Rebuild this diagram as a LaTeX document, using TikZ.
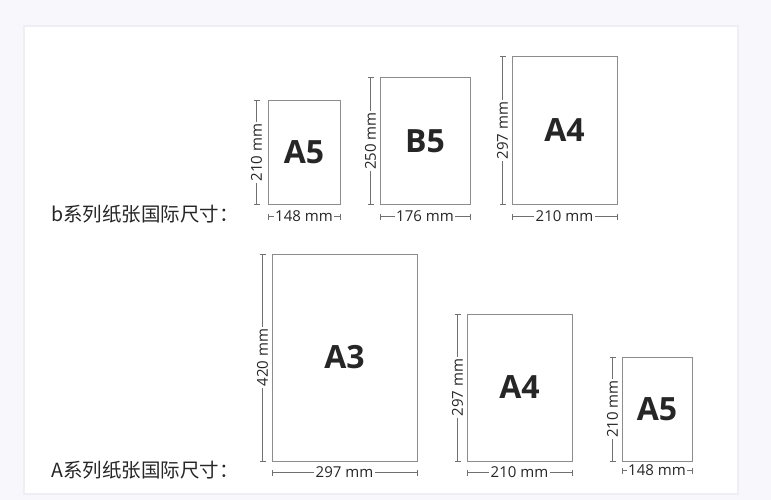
\documentclass[tikz,border=0pt]{standalone}
\usepackage{fontspec}
\setmainfont{Open Sans}
\newfontfamily\cjk{Noto Sans CJK SC}
\usetikzlibrary{arrows.meta}

\definecolor{pagebg}{HTML}{F8F8FC}
\definecolor{panelrim}{HTML}{EEEEF4}
\definecolor{edgegray}{HTML}{8C8C8C}
\definecolor{dimgray}{HTML}{707070}
\definecolor{inkgray}{HTML}{262626}

\tikzset{
  paper/.style={draw=edgegray, line width=1pt, fill=white, inner sep=0pt,
    font=\fontsize{32}{32}\selectfont\bfseries, text=inkgray},
  dimline/.style={draw=dimgray, line width=0.8pt,
    {Bar[width=6pt]}-{Bar[width=6pt]}},
  dimtext/.style={fill=white, inner sep=1.5pt,
    font=\fontsize{15}{15}\selectfont, text=inkgray},
  serieslabel/.style={anchor=west, inner sep=0pt,
    font=\cjk\fontsize{19.5}{19.5}\selectfont, text=inkgray}
}

\begin{document}
\begin{tikzpicture}[x=1pt,y=-1pt]
        % page and panel
        \fill[pagebg] (0,0) rectangle (771,500);
        \fill[panelrim] (23,25) rectangle (739,495);
        \fill[white] (25,27) rectangle (737,493);

        % B series row
        \node[paper, minimum width=72pt, minimum height=103pt] (a5top) at (304,152.5) {A5};
        \node[paper, minimum width=90pt, minimum height=126pt] (b5top) at (425,141) {B5};
        \node[paper, minimum width=105pt, minimum height=147pt] (a4top) at (564.5,130.5) {A4};

        \draw[dimline] ([xshift=-11pt]a5top.south west) -- node[dimtext, rotate=90] {210 mm} ([xshift=-11pt]a5top.north west);
        \draw[dimline] ([yshift=-12pt]a5top.south west) -- node[dimtext] {148 mm} ([yshift=-12pt]a5top.south east);
        \draw[dimline] ([xshift=-9pt]b5top.south west) -- node[dimtext, rotate=90] {250 mm} ([xshift=-9pt]b5top.north west);
        \draw[dimline] ([yshift=-12pt]b5top.south west) -- node[dimtext] {176 mm} ([yshift=-12pt]b5top.south east);
        \draw[dimline] ([xshift=-9pt]a4top.south west) -- node[dimtext, rotate=90] {297 mm} ([xshift=-9pt]a4top.north west);
        \draw[dimline] ([yshift=-12pt]a4top.south west) -- node[dimtext] {210 mm} ([yshift=-12pt]a4top.south east);

        \node[serieslabel] (bseries) at (51,214) {b系列纸张国际尺寸：};

        % A series row
        \node[paper, minimum width=145pt, minimum height=207pt] (a3bot) at (344.5,357.5) {A3};
        \node[paper, minimum width=105pt, minimum height=147pt] (a4bot) at (519.5,387.5) {A4};
        \node[paper, minimum width=70pt, minimum height=104pt] (a5bot) at (657,409) {A5};

        \draw[dimline] ([xshift=-9pt]a3bot.south west) -- node[dimtext, rotate=90] {420 mm} ([xshift=-9pt]a3bot.north west);
        \draw[dimline] ([yshift=-11pt]a3bot.south west) -- node[dimtext] {297 mm} ([yshift=-11pt]a3bot.south east);
        \draw[dimline] ([xshift=-9pt]a4bot.south west) -- node[dimtext, rotate=90] {297 mm} ([xshift=-9pt]a4bot.north west);
        \draw[dimline] ([yshift=-11pt]a4bot.south west) -- node[dimtext] {210 mm} ([yshift=-11pt]a4bot.south east);
        \draw[dimline] ([xshift=-9pt]a5bot.south west) -- node[dimtext, rotate=90] {210 mm} ([xshift=-9pt]a5bot.north west);
        \draw[dimline] ([yshift=-9pt]a5bot.south west) -- node[dimtext] {148 mm} ([yshift=-9pt]a5bot.south east);

        \node[serieslabel] (aseries) at (51,470) {A系列纸张国际尺寸：};
\end{tikzpicture}
\end{document}
